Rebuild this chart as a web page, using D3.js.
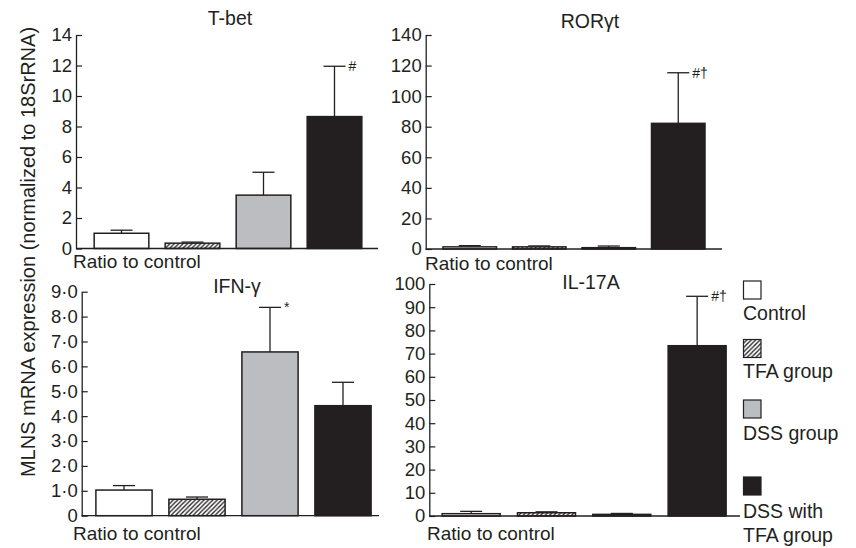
<!DOCTYPE html>
<html>
<head>
<meta charset="utf-8">
<script src="https://cdnjs.cloudflare.com/ajax/libs/d3/7.8.5/d3.min.js"></script>
<style>
  body { margin: 0; background: #fff; }
  svg text { font-family: "Liberation Sans", Arial, Helvetica, sans-serif; fill: #231f20; }
</style>
</head>
<body>
<svg id="chart" width="856" height="548"></svg>
<script>
// Groups (same order in every panel)
const categories = ["Control", "TFA group", "DSS group", "DSS with TFA group"];

// T-bet
const tbetMean = [1.0, 0.35, 3.5, 8.65];
const tbetSem = [0.2, 0.07, 1.5, 3.3];
const tbetMarks = ["", "", "", "#"];
const tbetTicks = [0, 2, 4, 6, 8, 10, 12, 14];
const tbetTickLabels = ["0", "2", "4", "6", "8", "10", "12", "14"];

// RORγt
const rorMean = [1.4, 1.4, 0.85, 82.2];
const rorSem = [0.8, 0.6, 1.1, 33.1];
const rorMarks = ["", "", "", "#\u2020"];
const rorTicks = [0, 20, 40, 60, 80, 100, 120, 140];
const rorTickLabels = ["0", "20", "40", "60", "80", "100", "120", "140"];

// IFN-γ
const ifnMean = [1.03, 0.66, 6.58, 4.42];
const ifnSem = [0.18, 0.09, 1.79, 0.94];
const ifnMarks = ["", "", "*", ""];
const ifnTicks = [0, 1, 2, 3, 4, 5, 6, 7, 8, 9];
const ifnTickLabels = ["0", "1\u00b70", "2\u00b70", "3\u00b70", "4\u00b70", "5\u00b70", "6\u00b70", "7\u00b70", "8\u00b70", "9\u00b70"];

// IL-17A
const il17Mean = [1.0, 1.4, 0.7, 73.4];
const il17Sem = [1.0, 0.4, 0.4, 21.3];
const il17Marks = ["", "", "", "#\u2020"];
const il17Ticks = [0, 10, 20, 30, 40, 50, 60, 70, 80, 90, 100];
const il17TickLabels = ["0", "10", "20", "30", "40", "50", "60", "70", "80", "90", "100"];

const ink = "#231f20";
const fills = ["#ffffff", "url(#hatch)", "#bcbdc0", "#231f20"];

const svg = d3.select("#chart");

// diagonal hatch for the TFA group
const defs = svg.append("defs");
defs.append("pattern")
    .attr("id", "hatch")
    .attr("patternUnits", "userSpaceOnUse")
    .attr("width", 4.4)
    .attr("height", 4.4)
  .call(p => p.append("rect").attr("width", 4.4).attr("height", 4.4).attr("fill", "#fff"))
  .append("path")
    .attr("d", "M-1.1,1.1 l2.2,-2.2 M0,4.4 l4.4,-4.4 M3.3,5.5 l2.2,-2.2")
    .attr("stroke", ink)
    .attr("stroke-width", 1.3);

// panel frames: axis x, bottom/top y, band range, axis end, title position
const panels = [
    { title: "T-bet", mean: tbetMean, sem: tbetSem, marks: tbetMarks, ticks: tbetTicks, labels: tbetTickLabels,
      max: 14, ax: 76, y0: 248.5, y1: 35, band: [86, 370], xEnd: 378, tx: 230, ty: 25, rx: 73, ry: 268 },
    { title: "ROR\u03b3t", mean: rorMean, sem: rorSem, marks: rorMarks, ticks: rorTicks, labels: rorTickLabels,
      max: 140, ax: 425.7, y0: 249, y1: 35, band: [435, 713], xEnd: 722, tx: 590, ty: 28, rx: 425, ry: 270 },
    { title: "IFN-\u03b3", mean: ifnMean, sem: ifnSem, marks: ifnMarks, ticks: ifnTicks, labels: ifnTickLabels,
      max: 9, ax: 81.7, y0: 515.7, y1: 291.7, band: [87.5, 379.5], xEnd: 379, tx: 237, ty: 293, rx: 73, ry: 540 },
    { title: "IL-17A", mean: il17Mean, sem: il17Sem, marks: il17Marks, ticks: il17Ticks, labels: il17TickLabels,
      max: 100, ax: 429.3, y0: 516, y1: 284, band: [433.5, 734.8], xEnd: 740, tx: 591, ty: 289, rx: 427, ry: 540 }
];

panels.forEach(pn => {
    const g = svg.append("g");

    const x = d3.scaleBand()
        .domain(categories)
        .range(pn.band)
        .paddingInner(0.23)
        .paddingOuter(0.115);

    const y = d3.scaleLinear()
        .domain([0, pn.max])
        .range([pn.y0, pn.y1]);

    // y axis with inward ticks
    const yAxis = g.append("g")
        .attr("transform", `translate(${pn.ax},0)`)
        .call(d3.axisLeft(y)
            .tickValues(pn.ticks)
            .tickFormat((d, i) => pn.labels[i])
            .tickSize(-6)
            .tickPadding(4)
            .tickSizeOuter(0));
    yAxis.select(".domain").attr("stroke", ink).attr("stroke-width", 1.3);
    yAxis.selectAll(".tick line").attr("stroke", ink).attr("stroke-width", 1.2);
    yAxis.selectAll(".tick text")
        .attr("font-size", "18.5px")
        .attr("font-family", "Liberation Sans, Arial, sans-serif")
        .attr("fill", ink);

    // bars
    g.selectAll(".bar")
        .data(categories)
        .enter().append("rect")
        .attr("x", d => x(d))
        .attr("y", (d, i) => y(pn.mean[i]))
        .attr("width", x.bandwidth())
        .attr("height", (d, i) => y(0) - y(pn.mean[i]))
        .attr("fill", (d, i) => fills[i])
        .attr("stroke", ink)
        .attr("stroke-width", 1.5);

    // upward error bars
    const cap = 22;
    categories.forEach((c, i) => {
        const cx = x(c) + x.bandwidth() / 2;
        const top = y(pn.mean[i] + pn.sem[i]);
        g.append("line")
            .attr("x1", cx).attr("x2", cx)
            .attr("y1", y(pn.mean[i])).attr("y2", top)
            .attr("stroke", ink).attr("stroke-width", 1.3);
        g.append("line")
            .attr("x1", cx - cap / 2).attr("x2", cx + cap / 2)
            .attr("y1", top).attr("y2", top)
            .attr("stroke", ink).attr("stroke-width", 1.3);
        if (pn.marks[i]) {
            g.append("text")
                .attr("x", cx + cap / 2 + 3)
                .attr("y", top + 5)
                .attr("font-size", "14px")
                .text(pn.marks[i]);
        }
    });

    // baseline (x axis without ticks)
    g.append("line")
        .attr("x1", pn.ax).attr("x2", pn.xEnd)
        .attr("y1", y(0)).attr("y2", y(0))
        .attr("stroke", ink).attr("stroke-width", 1.3);

    // title
    g.append("text")
        .attr("x", pn.tx)
        .attr("y", pn.ty)
        .attr("text-anchor", "middle")
        .attr("font-size", "19.5px")
        .text(pn.title);

    g.append("text")
        .attr("x", pn.rx)
        .attr("y", pn.ry)
        .attr("font-size", "19px")
        .text("Ratio to control");
});

// shared y label
svg.append("text")
    .attr("transform", "translate(35,252) rotate(-90)")
    .attr("text-anchor", "middle")
    .attr("font-size", "20px")
    .text("MLNS mRNA expression (normalized to 18SrRNA)");

// legend
const legendRows = [
    { box: 281, lines: ["Control"], base: 320 },
    { box: 339.5, lines: ["TFA group"], base: 378 },
    { box: 400, lines: ["DSS group"], base: 440 },
    { box: 477, lines: ["DSS with", "TFA group"], base: 517.5 }
];
const legend = svg.append("g");
legendRows.forEach((r, i) => {
    legend.append("rect")
        .attr("x", 743.5).attr("y", r.box)
        .attr("width", 17.5).attr("height", 18)
        .attr("fill", fills[i])
        .attr("stroke", ink)
        .attr("stroke-width", 1.2);
    r.lines.forEach((t, j) => {
        legend.append("text")
            .attr("x", 743)
            .attr("y", r.base + j * 24.5)
            .attr("font-size", "19.5px")
            .text(t);
    });
});
</script>
</body>
</html>
